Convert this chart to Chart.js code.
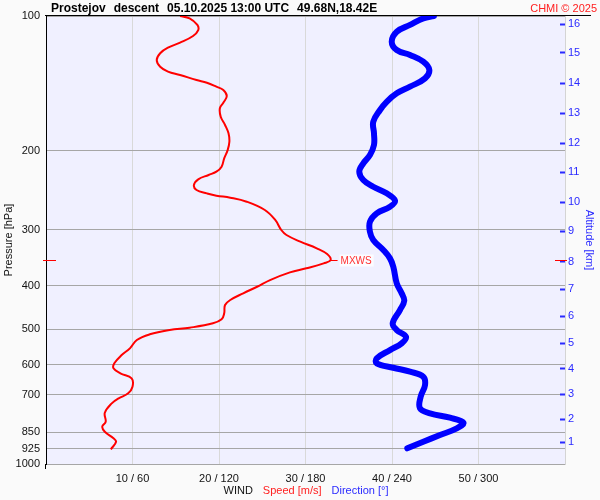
<!DOCTYPE html>
<html><head><meta charset="utf-8">
<script src="https://cdn.jsdelivr.net/npm/chart.js@4.4.1/dist/chart.umd.min.js"></script>
<style>html,body{margin:0;padding:0;background:#fafafa;}canvas{display:block;}</style>
</head><body>
<canvas id="c" width="600" height="500"></canvas>
<script>
// ---- data ----
const speedPressure = [100,101.2,104.7,107.5,110.8,114.7,117.7,121.1,125.4,129.8,133.1,135.4,139.0,140.9,143.8,146.3,150.9,156.2,160.7,167.8,175.1,182.7,190.8,199.2,207.8,216.9,222.6,226.4,231.5,238.4,244.6,248.8,251.8,254.4,259.7,271.0,285.3,300.4,308.2,319.0,330.0,339.9,350.5,356.5,365.8,373.4,388.5,402.1,415.9,430.5,441.7,460.9,475.4,485.3,496.4,502.3,513.5,528.8,551.9,571.2,596.1,611.6,627.5,643.9,672.3,695.5,713.6,732.2,768.4,804.8,825.7,847.2,876.4,891.9,927.3];
const speedValues   = [15.5,16.6,17.5,17.6,17.0,15.5,14.1,13.2,12.8,13.2,14.1,15.5,17.4,18.6,19.7,20.5,20.9,20.5,20.1,20.2,20.7,21.1,21.2,21.0,20.6,20.3,19.7,18.8,17.6,17.1,17.4,18.6,19.7,21.3,23.2,25.3,26.5,27.2,27.8,29.4,31.3,32.5,32.9,32.1,30.1,28.2,25.9,24.4,22.8,21.3,20.7,20.6,20.3,19.3,16.6,14.3,12.0,10.5,9.7,8.75,7.9,7.8,8.6,9.9,10.0,9.5,8.4,7.6,6.8,6.9,6.5,6.8,7.8,8.1,7.5];
const dirPressure = [100,101.2,104.7,108.4,114.1,119.1,122.2,126.5,132.0,137.8,143.8,148.8,155.4,162.1,172.2,182.7,194.1,204.3,213.2,222.6,232.3,240.5,248.8,258.4,266.5,275.7,287.8,303.0,316.2,332.9,347.5,362.8,395.2,415.9,432.1,453.2,485.3,502.3,519.9,537.9,556.8,580.9,596.1,609.7,622.3,638.6,666.4,707.7,751.1,770.7,788.3,808.8,832.6,861.7,891.9,922.6];
const dirValues   = [269.1,261.7,252.5,243.3,239.8,243.3,252.5,261.7,265.9,262.9,252.5,243.3,236.3,231.7,227.0,227.5,227.5,224.7,220.1,217.3,220.1,227.0,236.3,242.1,238.6,229.4,224.7,224.7,227.0,234.0,238.6,240.9,243.3,246.7,248.5,245.5,240.5,243.3,249.7,246.7,238.6,229.4,229.4,240.9,252.5,261.7,262.9,259.9,259.4,266.4,280.2,289.5,284.9,273.3,261.7,250.6];
const pressureTicks = [100,200,300,400,500,600,700,850,925,1000];
const speedTicks = [10,20,30,40,50];
const altitudeKm = [1,2,3,4,5,6,7,8,9,10,11,12,13,14,15,16];
const altitudePressure = [894.3,793.6,698.2,612.9,537.0,468.1,406.8,353.5,302.0,260.6,223.3,192.4,164.9,141.3,120.7,104.2];
const maxWindPressure = 351;
const maxWindSpeed = 32.9;
const titleParts = ['Prostejov','descent','05.10.2025 13:00 UTC','49.68N,18.42E'];

const FONT = '"Liberation Sans", Arial, sans-serif';
const BLUE_TXT = '#2a2aff';

const bgPlugin = {
  id: 'bg',
  beforeDraw(chart) {
    const {ctx, chartArea: a} = chart;
    ctx.save();
    ctx.fillStyle = '#fafafa';
    ctx.fillRect(0, 0, chart.width, chart.height);
    ctx.fillStyle = '#f0f0ff';
    ctx.fillRect(a.left, a.top, a.right - a.left, a.bottom - a.top);
    ctx.restore();
  }
};

const decoPlugin = {
  id: 'deco',
  afterDraw(chart) {
    const {ctx, chartArea: a, scales} = chart;
    ctx.save();
    // top line
    ctx.strokeStyle = '#000'; ctx.lineWidth = 1;
    ctx.beginPath(); ctx.moveTo(a.left - 1, a.top - 0.5); ctx.lineTo(591, a.top - 0.5); ctx.stroke();
    // left axis extension
    ctx.beginPath(); ctx.moveTo(a.left - 0.5, a.bottom); ctx.lineTo(a.left - 0.5, a.bottom + 5); ctx.stroke();
    // title
    ctx.font = 'bold 12px ' + FONT; ctx.fillStyle = '#000'; ctx.textBaseline = 'alphabetic'; ctx.textAlign = 'left';
    let x = 51;
    titleParts.forEach(t => { ctx.fillText(t, x, 12); x += ctx.measureText(t).width + 8; });
    ctx.font = '11px ' + FONT; ctx.fillStyle = '#ff2020'; ctx.textAlign = 'right';
    ctx.fillText('CHMI \u00A9 2025', 597, 12);
    // bottom title
    const parts = [['WIND','#111'],['Speed [m/s]','#ff2020'],['Direction [\u00B0]', BLUE_TXT]];
    ctx.font = '11px ' + FONT; ctx.textAlign = 'left'; ctx.textBaseline = 'middle';
    const gap = 10;
    const total = parts.reduce((s,p)=>s+ctx.measureText(p[0]).width,0) + gap*(parts.length-1);
    let bx = 306 - total/2;
    parts.forEach(p => { ctx.fillStyle = p[1]; ctx.fillText(p[0], bx, 491); bx += ctx.measureText(p[0]).width + gap; });
    // MXWS markers
    const my = Math.round(scales.y.getPixelForValue(maxWindPressure)) + 0.5;
    const mx = scales.x.getPixelForValue(maxWindSpeed);
    ctx.strokeStyle = '#ff0000'; ctx.lineWidth = 1;
    ctx.beginPath(); ctx.moveTo(a.left - 3, my); ctx.lineTo(a.left + 10, my); ctx.stroke();
    ctx.beginPath(); ctx.moveTo(a.right - 10, my); ctx.lineTo(a.right + 2, my); ctx.stroke();
    ctx.beginPath(); ctx.moveTo(mx, my); ctx.lineTo(mx + 7, my); ctx.stroke();
    ctx.font = '10px ' + FONT;
    const tw = ctx.measureText('MXWS').width;
    ctx.fillStyle = 'rgba(255,255,255,0.8)';
    ctx.fillRect(mx + 9, my - 6, tw + 3, 12);
    ctx.fillStyle = '#ff3030'; ctx.textAlign = 'left'; ctx.textBaseline = 'middle';
    ctx.fillText('MXWS', mx + 10, my + 1);
    ctx.restore();
  }
};

new Chart(document.getElementById('c'), {
  type: 'line',
  data: {
    datasets: [
      {
        label: 'Direction',
        data: dirPressure.map((p, i) => ({x: dirValues[i], y: p})),
        xAxisID: 'xd', yAxisID: 'y',
        borderColor: '#0000ff', borderWidth: 6, pointRadius: 0, tension: 0.4,
        borderCapStyle: 'round', borderJoinStyle: 'round', fill: false
      },
      {
        label: 'Speed',
        data: speedPressure.map((p, i) => ({x: speedValues[i], y: p})),
        xAxisID: 'x', yAxisID: 'y',
        borderColor: '#ff0000', borderWidth: 2, pointRadius: 0, tension: 0.4, fill: false
      }
    ]
  },
  options: {
    responsive: false, animation: false, devicePixelRatio: 1,
    layout: {padding: {top: 16, left: 0, right: 0, bottom: 0}},
    plugins: {legend: {display: false}, tooltip: {enabled: false}, title: {display: false}},
    scales: {
      x: {
        type: 'linear', position: 'bottom', min: 0, max: 60,
        afterBuildTicks: s => { s.ticks = [0].concat(speedTicks, [60]).map(v => ({value: v})); },
        afterFit: s => { s.height = 36; },
        ticks: {callback: v => speedTicks.includes(v) ? v + ' / ' + (v * 6) : '', font: {family: FONT, size: 11}, color: '#111', padding: 8, maxRotation: 0, autoSkip: false},
        grid: {color: '#d9d9d9', drawTicks: false, lineWidth: 1},
        border: {display: false}
      },
      xd: {type: 'linear', position: 'bottom', min: 0, max: 360, display: false},
      y: {
        type: 'logarithmic', position: 'left', reverse: true, min: 100, max: 1000,
        afterBuildTicks: s => { s.ticks = pressureTicks.map(v => ({value: v})); },
        afterFit: s => { s.width = 46; },
        ticks: {callback: v => String(v), font: {family: FONT, size: 11}, color: '#111', padding: 6, autoSkip: false},
        grid: {color: '#a6a6a6', drawTicks: false},
        border: {color: '#000', width: 1},
        title: {display: true, text: 'Pressure [hPa]', font: {family: FONT, size: 11}, color: '#111', padding: {top: 2, bottom: 0}}
      },
      y2: {
        type: 'logarithmic', position: 'right', reverse: true, min: 100, max: 1000,
        afterBuildTicks: s => { s.ticks = altitudePressure.map(v => ({value: v})); },
        afterFit: s => { s.width = 35; },
        ticks: {callback: v => String(altitudeKm[altitudePressure.indexOf(v)]), font: {family: FONT, size: 11}, color: BLUE_TXT, padding: 8, autoSkip: false},
        grid: {drawOnChartArea: false, tickLength: -5, tickColor: BLUE_TXT, tickWidth: 2},
        border: {color: '#d4d4d4'},
        title: {display: true, text: 'Altitude [km]', font: {family: FONT, size: 11}, color: BLUE_TXT, padding: {top: 4, bottom: 0}}
      }
    }
  },
  plugins: [bgPlugin, decoPlugin]
});
</script>
</body></html>
